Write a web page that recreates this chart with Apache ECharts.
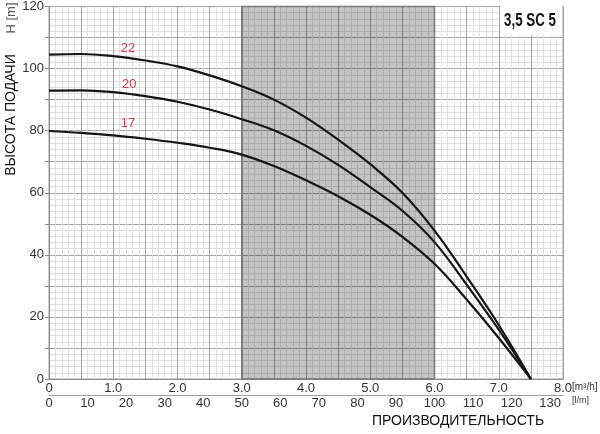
<!DOCTYPE html>
<html>
<head>
<meta charset="utf-8">
<script src="https://cdn.jsdelivr.net/npm/echarts@6/dist/echarts.min.js"></script>
<style>html,body{margin:0;padding:0;background:#fff}#c{width:600px;height:434px}</style>
</head>
<body>
<div id="c"></div>
<script>
// Flow (m³/h)
const flow = [0, 0.5, 1.0, 1.5, 2.0, 2.5, 3.0, 3.5, 4.0, 4.5, 5.0, 5.5, 6.0, 6.5, 7.0, 7.5];
// Head (m) for each stage count
const head22 = [104.5, 104.7, 104.0, 102.6, 100.7, 97.8, 94.3, 90.0, 84.2, 77.1, 69.2, 60.0, 47.8, 33.0, 17.4, 0];
const head20 = [92.9, 93.0, 92.4, 91.1, 89.3, 86.8, 83.7, 80.1, 75.1, 69.0, 61.8, 54.2, 44.1, 30.4, 15.9, 0];
const head17 = [79.9, 79.3, 78.5, 77.4, 76.1, 74.5, 72.3, 68.6, 64.0, 58.9, 52.9, 45.8, 37.1, 25.6, 13.2, 0];
const stageNames = ['22', '20', '17'];
const stageLabelAt = [[1.23, 106.6], [1.25, 94.9], [1.23, 82.2]];
const shadedRange = [3.0, 6.0];
const title = '3,5 SC 5';
const yTitle = 'ВЫСОТА ПОДАЧИ';
const xTitle = 'ПРОИЗВОДИТЕЛЬНОСТЬ';

const zip = (xs, ys) => xs.map((x, i) => [x, ys[i]]);
const heads = [head22, head20, head17];

const chart = echarts.init(document.getElementById('c'), null, {renderer: 'canvas'});
const gridLeft = 49, gridTop = 5, gridRight = 37, gridBottom = 55;

const curveSeries = heads.map((h, i) => ({
  type: 'line',
  xAxisIndex: 0,
  yAxisIndex: 0,
  data: zip(flow, h),
  smooth: 0.4,
  symbol: 'none',
  lineStyle: {color: '#151515', width: 2.2},
  z: 5,
  markPoint: {
    symbol: 'circle',
    symbolSize: 0,
    label: {show: true, position: 'inside', color: '#d9404f', fontSize: 13, fontFamily: 'Liberation Sans, Arial', formatter: stageNames[i]},
    data: [{coord: stageLabelAt[i], value: stageNames[i]}]
  }
}));

chart.setOption({
  animation: false,
  backgroundColor: '#fff',
  grid: {left: gridLeft, top: gridTop, right: gridRight, bottom: gridBottom, show: true, borderColor: '#9a9a9a', borderWidth: 1, backgroundColor: 'transparent'},
  xAxis: [{
    type: 'value', min: 0, max: 8, interval: 0.5, position: 'bottom',
    axisLine: {show: true, onZero: false, lineStyle: {color: '#8a8a8a', width: 1}},
    axisTick: {show: false},
    axisLabel: {margin: 3, color: '#333', fontSize: 13, fontFamily: 'Liberation Sans, Arial',
      formatter: v => (Math.abs(v % 1) < 1e-9 ? (v === 0 ? '0' : v.toFixed(1)) : '')},
    splitLine: {show: true, lineStyle: {color: '#a4a4a4', width: 1}},
    minorTick: {show: false, splitNumber: 5},
    minorSplitLine: {show: true, lineStyle: {color: '#e0e0e0', width: 1}}
  }, {
    type: 'value', min: 0, max: 8000 / 60, interval: 10, position: 'bottom', offset: 16,
    axisLine: {show: true, onZero: false, lineStyle: {color: '#a0a0a0', width: 1}},
    axisTick: {show: false},
    axisLabel: {margin: 2, color: '#333', fontSize: 13, fontFamily: 'Liberation Sans, Arial', showMaxLabel: false},
    splitLine: {show: false}
  }],
  yAxis: [{
    type: 'value', min: 0, max: 120, interval: 10,
    axisLine: {show: true, lineStyle: {color: '#8a8a8a'}},
    axisTick: {show: true, length: 4, lineStyle: {color: '#8a8a8a'}},
    axisLabel: {margin: 5, color: '#333', fontSize: 13, fontFamily: 'Liberation Sans, Arial',
      formatter: v => (v % 20 === 0 ? String(v) : '')},
    splitLine: {show: true, lineStyle: {color: '#a4a4a4', width: 1}},
    minorTick: {show: false, splitNumber: 5},
    minorSplitLine: {show: true, lineStyle: {color: '#e0e0e0', width: 1}}
  }],
  series: [{
    type: 'line', xAxisIndex: 0, yAxisIndex: 0, data: [], z: 3,
    markArea: {
      silent: true,
      itemStyle: {color: 'rgba(0,0,0,0.23)', borderColor: '#7a7a7a', borderWidth: 1.5},
      data: [[{xAxis: shadedRange[0], yAxis: 0}, {xAxis: shadedRange[1], yAxis: 120}]]
    }
  }].concat(curveSeries),
  graphic: [
    {type: 'rect', shape: {x: 500, y: 6, width: 62, height: 29}, style: {fill: '#fff'}, z: 10},
    {type: 'text', x: 530, y: 21, scaleX: 0.74, z: 11, style: {text: title, fontSize: 18, fontWeight: 'bold', fontFamily: 'Liberation Sans, Arial', fill: '#111', align: 'center', verticalAlign: 'middle'}},
    {type: 'text', x: 11, y: 115, rotation: Math.PI / 2, z: 11, style: {text: yTitle, fontSize: 14, fontFamily: 'Liberation Sans, Arial', fill: '#111', align: 'center', verticalAlign: 'middle'}},
    {type: 'text', x: 11, y: 18, rotation: Math.PI / 2, z: 11, style: {text: 'H [m]', fontSize: 13, fontFamily: 'Liberation Sans, Arial', fill: '#555', align: 'center', verticalAlign: 'middle'}},
    {type: 'text', x: 572, y: 387, z: 11, style: {text: '[m³/h]', fontSize: 10, fontFamily: 'Liberation Sans, Arial', fill: '#333', align: 'left', verticalAlign: 'middle'}},
    {type: 'text', x: 572, y: 401, z: 11, style: {text: '[l/m]', fontSize: 9, fontFamily: 'Liberation Sans, Arial', fill: '#333', align: 'left', verticalAlign: 'middle'}},
    {type: 'text', x: 458, y: 421, z: 11, style: {text: xTitle, fontSize: 14, fontFamily: 'Liberation Sans, Arial', fill: '#111', align: 'center', verticalAlign: 'middle'}}
  ]
});
</script>
</body>
</html>
